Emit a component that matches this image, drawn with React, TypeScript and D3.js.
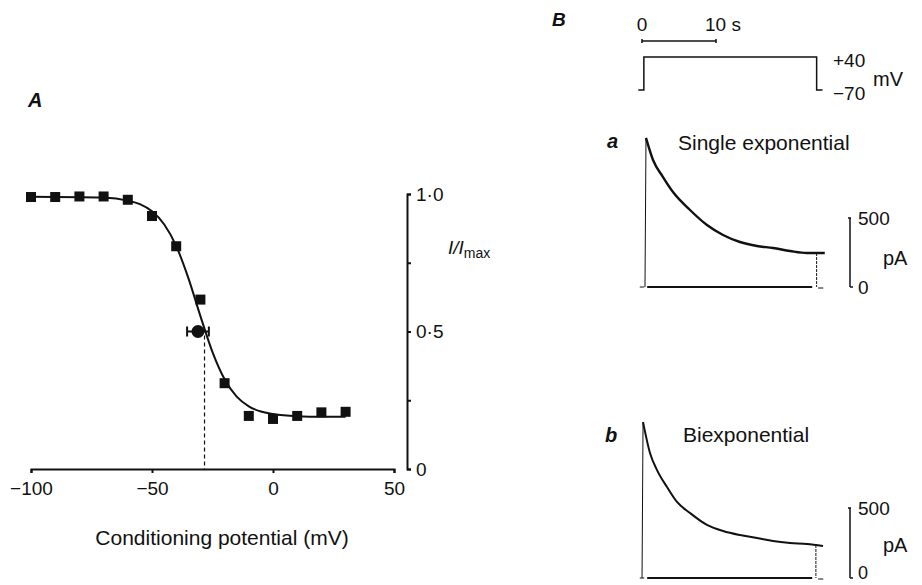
import React, { useEffect, useRef } from 'react';
import * as d3 from 'd3';

// Panel A: steady-state inactivation
const condPotential = [-100, -90, -80, -70, -60, -50, -40, -30, -20, -10, 0, 10, 20, 30];
const relCurrent = [0.989, 0.989, 0.991, 0.991, 0.979, 0.92, 0.81, 0.616, 0.312, 0.193, 0.182, 0.193, 0.206, 0.208];
// fitted Boltzmann curve
const fitPotential = [-100, -70, -60, -55, -50, -45, -40, -35, -30, -25, -20, -15, -10, -5, 0, 10, 20, 30];
const fitCurrent = [0.99, 0.987, 0.976, 0.963, 0.937, 0.89, 0.811, 0.695, 0.556, 0.425, 0.326, 0.263, 0.228, 0.209, 0.2, 0.192, 0.19, 0.19];
const halfPoint = { v: -31, err: 4.5, i: 0.5 };
const halfLineV = -28.3;
const xTicks = [-100, -50, 0, 50];
const yTicks = [0, 0.25, 0.5, 0.75, 1];
const yTickLabels = ['0', '', '0·5', '', '1·0'];

// Panel B: voltage protocol and current traces (time in s)
const protocolT = [-0.5, 0.25, 0.25, 23.6, 23.6, 24.4];
const protocolV = [-70, -70, 40, 40, -70, -70];
const traceATime = [0.54, 1.49, 2.84, 4.19, 6.49, 8.78, 10.95, 13.24, 15.54, 17.7, 20.0, 22.3, 24.7];
const traceACurrent = [1080, 920, 797, 688, 558, 449, 377, 326, 297, 283, 261, 246, 246];
const traceBTime = [0.14, 1.08, 2.03, 3.38, 4.73, 6.49, 8.78, 10.95, 13.24, 15.54, 17.7, 20.0, 22.3, 24.46];
const traceBCurrent = [1114, 893, 771, 650, 543, 464, 379, 336, 307, 286, 264, 250, 243, 229];

const FONT = '"Liberation Sans", Arial, Helvetica, sans-serif';
const INK = '#111';

const App = () => {
  const xAxisRef = useRef<SVGGElement>(null);
  const yAxisRef = useRef<SVGGElement>(null);

  const x = d3.scaleLinear().domain([-100, 50]).range([31, 394]);
  const y = d3.scaleLinear().domain([0, 1]).range([469, 194]);

  const t = d3.scaleLinear().domain([0, 10]).range([642, 716]);
  const mv = d3.scaleLinear().domain([-70, 40]).range([90, 57]);
  const pA = d3.scaleLinear().domain([0, 500]).range([287, 218]);
  const pB = d3.scaleLinear().domain([0, 500]).range([578, 508]);

  useEffect(() => {
    const gx = d3.select(xAxisRef.current);
    gx.call(
      d3.axisBottom(x).tickValues(xTicks).tickSize(4).tickPadding(9)
    );
    gx.selectAll('path, line').attr('stroke', INK).attr('stroke-width', 2);
    gx.selectAll('text')
      .attr('fill', INK)
      .style('font-family', FONT)
      .style('font-size', '19px');

    const gy = d3.select(yAxisRef.current);
    gy.call(
      d3
        .axisRight(y)
        .tickValues(yTicks)
        .tickSize(4)
        .tickPadding(5)
        .tickFormat((d, i) => yTickLabels[i])
    );
    gy.selectAll('path, line').attr('stroke', INK).attr('stroke-width', 2);
    gy.selectAll('text')
      .attr('fill', INK)
      .style('font-family', FONT)
      .style('font-size', '19px');
  }, []);

  const fitLine = d3
    .line<number>()
    .x((d, i) => x(fitPotential[i]))
    .y((d) => y(d))
    .curve(d3.curveMonotoneX);

  const protoLine = d3
    .line<number>()
    .x((d, i) => t(protocolT[i]))
    .y((d) => mv(d));

  const decayA = d3
    .line<number>()
    .x((d, i) => t(traceATime[i]))
    .y((d) => pA(d))
    .curve(d3.curveMonotoneX);

  const decayB = d3
    .line<number>()
    .x((d, i) => t(traceBTime[i]))
    .y((d) => pB(d))
    .curve(d3.curveMonotoneX);

  const txt = { fontFamily: FONT, fill: INK };

  const traceBits = (
    sc: d3.ScaleLinear<number, number>,
    times: number[],
    currents: number[],
    dropT: number,
    dropI: number
  ) => (
    <g stroke={INK} fill="none">
      {/* rise */}
      <line x1={t(times[0]) - 1} y1={sc(0)} x2={t(times[0])} y2={sc(currents[0])} strokeWidth={1} />
      {/* end of pulse */}
      <line x1={t(dropT)} y1={sc(dropI)} x2={t(dropT)} y2={sc(0)} strokeWidth={1} strokeDasharray="3 1" />
      {/* zero current baseline */}
      <line x1={t(0.7)} y1={sc(0)} x2={t(23.0)} y2={sc(0)} strokeWidth={2.2} />
      <line x1={t(-0.3)} y1={sc(0)} x2={t(0.3)} y2={sc(0)} strokeWidth={1} />
      <line x1={t(23.8)} y1={sc(0) + 1} x2={t(24.5)} y2={sc(0) + 1} strokeWidth={1} />
      {/* 500 pA scale bar */}
      <line x1={850} y1={sc(0)} x2={850} y2={sc(500)} strokeWidth={1.5} />
      <line x1={850} y1={sc(0)} x2={853} y2={sc(0)} strokeWidth={1.5} />
      <line x1={848} y1={sc(500)} x2={851} y2={sc(500)} strokeWidth={1.5} />
    </g>
  );

  return (
    <svg
      width={922}
      height={585}
      style={{ position: 'absolute', left: 0, top: 0, background: '#fff' }}
    >
      {/* ---------- Panel A ---------- */}
      <text x={28} y={107} fontSize={20} fontStyle="italic" fontWeight="bold" {...txt}>
        A
      </text>
      <g ref={xAxisRef} transform={`translate(0,${y(0)})`} />
      <g ref={yAxisRef} transform={`translate(407,0)`} />

      <text x={448} y={254} fontSize={19} fontStyle="italic" {...txt}>
        I/I
        <tspan fontSize={14} fontStyle="normal" dy={4}>
          max
        </tspan>
      </text>

      <text x={222} y={545} fontSize={21} textAnchor="middle" {...txt}>
        Conditioning potential (mV)
      </text>

      <path d={fitLine(fitCurrent) || ''} fill="none" stroke={INK} strokeWidth={2} />

      <line
        x1={x(halfLineV)}
        y1={y(halfPoint.i) + 4}
        x2={x(halfLineV)}
        y2={y(0)}
        stroke={INK}
        strokeWidth={1.2}
        strokeDasharray="4 3"
      />

      {relCurrent.map((d, i) => (
        <rect
          key={i}
          x={x(condPotential[i]) - 5}
          y={y(d) - 5}
          width={10}
          height={10}
          fill={INK}
        />
      ))}

      <g stroke={INK} strokeWidth={2}>
        <line
          x1={x(halfPoint.v - halfPoint.err)}
          y1={y(halfPoint.i)}
          x2={x(halfPoint.v + halfPoint.err)}
          y2={y(halfPoint.i)}
        />
        <line
          x1={x(halfPoint.v - halfPoint.err)}
          y1={y(halfPoint.i) - 5}
          x2={x(halfPoint.v - halfPoint.err)}
          y2={y(halfPoint.i) + 5}
        />
        <line
          x1={x(halfPoint.v + halfPoint.err)}
          y1={y(halfPoint.i) - 5}
          x2={x(halfPoint.v + halfPoint.err)}
          y2={y(halfPoint.i) + 5}
        />
      </g>
      <circle cx={x(halfPoint.v)} cy={y(halfPoint.i)} r={6.5} fill={INK} />

      {/* ---------- Panel B ---------- */}
      <text x={552} y={26} fontSize={19} fontStyle="italic" fontWeight="bold" {...txt}>
        B
      </text>

      {/* time scale bar */}
      <g stroke={INK} strokeWidth={1.5}>
        <line x1={t(0)} y1={41} x2={t(10)} y2={41} />
        <line x1={t(0)} y1={39} x2={t(0)} y2={43} />
        <line x1={t(10)} y1={39} x2={t(10)} y2={43} />
      </g>
      <text x={t(0)} y={31} fontSize={19} textAnchor="middle" {...txt}>
        0
      </text>
      <text x={t(10) - 11} y={31} fontSize={19} {...txt}>
        10 s
      </text>

      <path d={protoLine(protocolV) || ''} fill="none" stroke={INK} strokeWidth={1.5} />
      <text x={833} y={67} fontSize={19} {...txt}>
        +40
      </text>
      <text x={833} y={100} fontSize={19} {...txt}>
        −70
      </text>
      <text x={873} y={86} fontSize={20} {...txt}>
        mV
      </text>

      {/* trace a */}
      <text x={607} y={148} fontSize={20} fontStyle="italic" fontWeight="bold" {...txt}>
        a
      </text>
      <text x={678} y={150} fontSize={21} {...txt}>
        Single exponential
      </text>
      {traceBits(pA, traceATime, traceACurrent, 23.6, 246)}
      <path d={decayA(traceACurrent) || ''} fill="none" stroke={INK} strokeWidth={2.4} />
      <text x={858} y={225} fontSize={19} {...txt}>
        500
      </text>
      <text x={858} y={294} fontSize={19} {...txt}>
        0
      </text>
      <text x={883} y={265} fontSize={20} {...txt}>
        pA
      </text>

      {/* trace b */}
      <text x={605} y={442} fontSize={20} fontStyle="italic" fontWeight="bold" {...txt}>
        b
      </text>
      <text x={683} y={442} fontSize={21} {...txt}>
        Biexponential
      </text>
      {traceBits(pB, traceBTime, traceBCurrent, 23.5, 236)}
      <path d={decayB(traceBCurrent) || ''} fill="none" stroke={INK} strokeWidth={2} />
      <text x={858} y={515} fontSize={19} {...txt}>
        500
      </text>
      <text x={858} y={579} fontSize={18} {...txt}>
        0
      </text>
      <text x={883} y={552} fontSize={20} {...txt}>
        pA
      </text>
    </svg>
  );
};

export default App;
